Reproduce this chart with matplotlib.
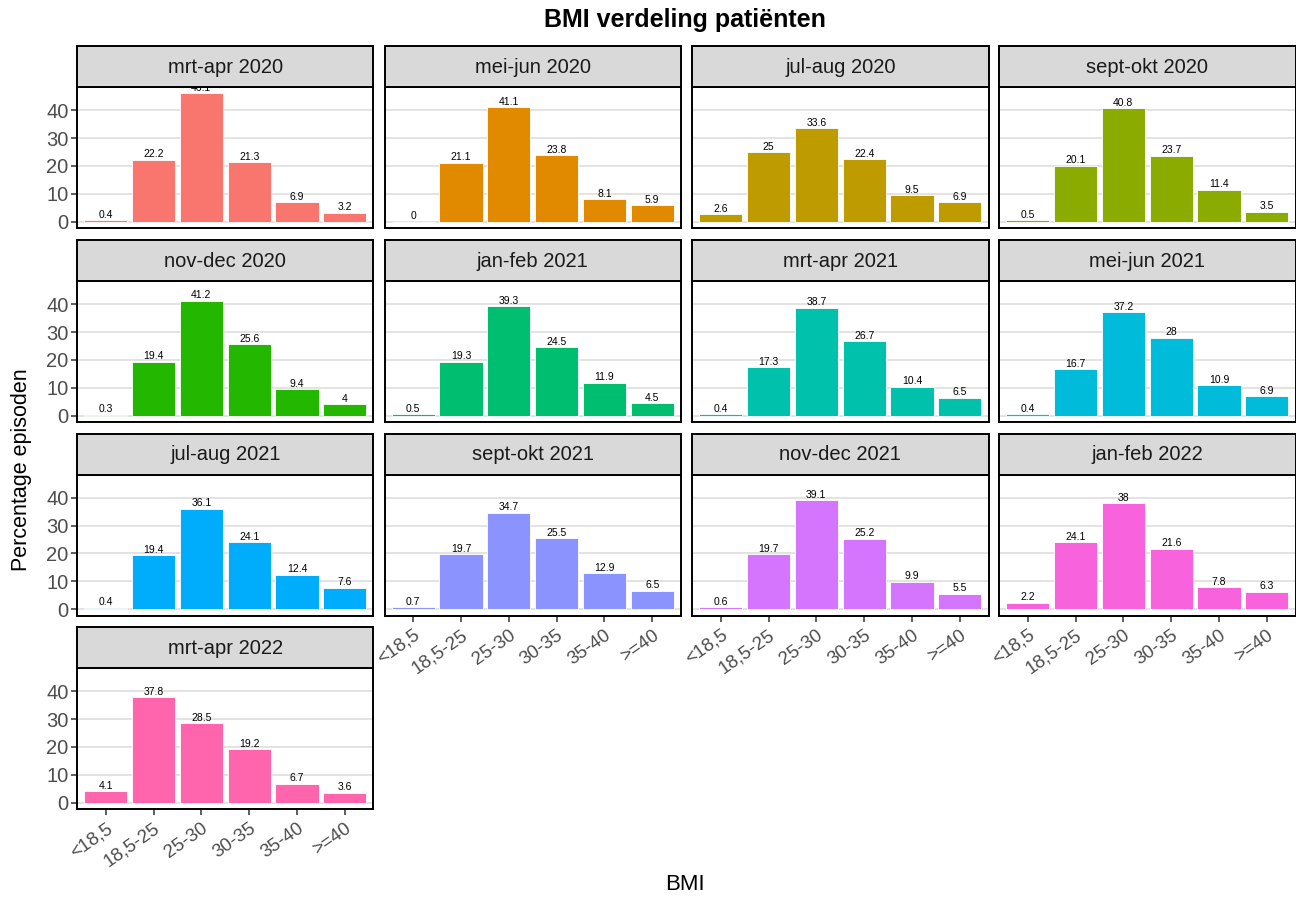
import matplotlib
matplotlib.use("Agg")
import matplotlib.pyplot as plt

plt.rcParams["font.family"] = ["Liberation Sans", "DejaVu Sans"]

PERIODS = ["mrt-apr 2020", "mei-jun 2020", "jul-aug 2020", "sept-okt 2020",
           "nov-dec 2020", "jan-feb 2021", "mrt-apr 2021", "mei-jun 2021",
           "jul-aug 2021", "sept-okt 2021", "nov-dec 2021", "jan-feb 2022",
           "mrt-apr 2022"]
BMI_CLASSES = ["<18,5", "18,5-25", "25-30", "30-35", "35-40", ">=40"]

p_mrt_apr_2020 = [0.4, 22.2, 46.1, 21.3, 6.9, 3.2]
p_mei_jun_2020 = [0, 21.1, 41.1, 23.8, 8.1, 5.9]
p_jul_aug_2020 = [2.6, 25, 33.6, 22.4, 9.5, 6.9]
p_sept_okt_2020 = [0.5, 20.1, 40.8, 23.7, 11.4, 3.5]
p_nov_dec_2020 = [0.3, 19.4, 41.2, 25.6, 9.4, 4]
p_jan_feb_2021 = [0.5, 19.3, 39.3, 24.5, 11.9, 4.5]
p_mrt_apr_2021 = [0.4, 17.3, 38.7, 26.7, 10.4, 6.5]
p_mei_jun_2021 = [0.4, 16.7, 37.2, 28, 10.9, 6.9]
p_jul_aug_2021 = [0.4, 19.4, 36.1, 24.1, 12.4, 7.6]
p_sept_okt_2021 = [0.7, 19.7, 34.7, 25.5, 12.9, 6.5]
p_nov_dec_2021 = [0.6, 19.7, 39.1, 25.2, 9.9, 5.5]
p_jan_feb_2022 = [2.2, 24.1, 38, 21.6, 7.8, 6.3]
p_mrt_apr_2022 = [4.1, 37.8, 28.5, 19.2, 6.7, 3.6]

VALUES = [p_mrt_apr_2020, p_mei_jun_2020, p_jul_aug_2020, p_sept_okt_2020,
          p_nov_dec_2020, p_jan_feb_2021, p_mrt_apr_2021, p_mei_jun_2021,
          p_jul_aug_2021, p_sept_okt_2021, p_nov_dec_2021, p_jan_feb_2022,
          p_mrt_apr_2022]

# ggplot2 default hue palette for 13 levels
COLORS = ["#F8766D", "#E18A00", "#BE9C00", "#8CAB00", "#24B700", "#00BE70",
          "#00C1AB", "#00BBDA", "#00ACFC", "#8B93FF", "#D575FE", "#F962DD",
          "#FF65AC"]

W, H = 1296, 899
fig = plt.figure(figsize=(W / 100, H / 100), dpi=100)

col_left = [77, 384.5, 692, 999]
panel_w = 296.5
strip_top = [46, 240, 433.5, 627]
strip_h = 41
panel_h = 141

ymax = max(max(v) for v in VALUES)
ylim = (-0.05 * ymax, 1.05 * ymax)

for i, (name, vals, col) in enumerate(zip(PERIODS, VALUES, COLORS)):
    r, c = divmod(i, 4)
    x0 = col_left[c]
    y_strip = strip_top[r]
    y_panel_top = y_strip + strip_h
    ax = fig.add_axes([x0 / W, 1 - (y_panel_top + panel_h) / H, panel_w / W, panel_h / H])
    sax = fig.add_axes([x0 / W, 1 - y_panel_top / H, panel_w / W, strip_h / H])

    sax.set_facecolor("#D9D9D9")
    sax.set_xticks([])
    sax.set_yticks([])
    for s in sax.spines.values():
        s.set_color("black")
        s.set_linewidth(1.4)
    sax.text(0.5, 0.48, name, ha="center", va="center", fontsize=14.5,
             color="#1A1A1A", transform=sax.transAxes)

    x = list(range(len(BMI_CLASSES)))
    ax.bar(x, vals, width=0.9, color=col, edgecolor="white", linewidth=0.6, zorder=2)
    for xi, v in zip(x, vals):
        ax.text(xi, v + 0.2, f"{v:g}", ha="center", va="bottom", fontsize=7.5,
                color="black", clip_on=True, zorder=3)

    ax.set_xlim(-0.6, len(BMI_CLASSES) - 0.4)
    ax.set_ylim(*ylim)
    ax.set_yticks([0, 10, 20, 30, 40])
    ax.grid(axis="y", color="#DEDEDE", linewidth=1.2, zorder=0)
    ax.set_axisbelow(True)
    for s in ax.spines.values():
        s.set_color("black")
        s.set_linewidth(1.4)
    ax.tick_params(colors="#333333", labelcolor="#4D4D4D", labelsize=14.5,
                   length=4, width=1.1, pad=2)
    ax.set_xticks(x)

    bottom = (i + 4 >= len(PERIODS))
    if bottom:
        ax.set_xticklabels(BMI_CLASSES, rotation=35, ha="right",
                           rotation_mode="anchor", fontsize=13.5)
        ax.tick_params(axis="x", pad=4)
    else:
        ax.set_xticklabels([])
        ax.tick_params(axis="x", length=0)
    if c != 0:
        ax.set_yticklabels([])
        ax.tick_params(axis="y", length=0)

fig.text(685 / W, 1 - 20 / H, "BMI verdeling patiënten", ha="center", va="center",
         fontsize=18, fontweight="bold")
fig.text(685 / W, 1 - 885 / H, "BMI", ha="center", va="center", fontsize=16)
fig.text(22 / W, 1 - 470 / H, "Percentage episoden", ha="center", va="center",
         rotation=90, fontsize=15.5)

fig.savefig("out.png", dpi=100)
